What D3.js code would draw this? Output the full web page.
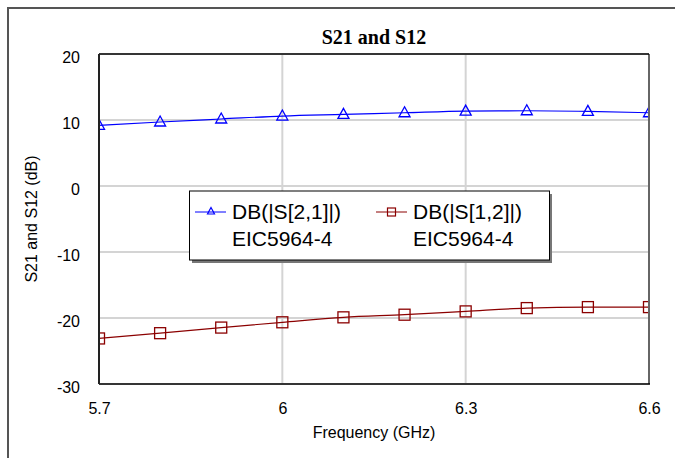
<!DOCTYPE html>
<html>
<head>
<meta charset="utf-8">
<script src="https://cdn.jsdelivr.net/npm/d3@7"></script>
<style>
  body { margin: 0; background: #fff; }
  svg { display: block; }
</style>
</head>
<body>
<div id="chart"></div>
<script>
const freqs = [5.7, 5.8, 5.9, 6.0, 6.1, 6.2, 6.3, 6.4, 6.5, 6.6]
const s21 = [9.2, 9.7, 10.15, 10.6, 10.85, 11.1, 11.35, 11.4, 11.3, 11.1]
const s12 = [-23.1, -22.3, -21.45, -20.65, -19.9, -19.5, -19.0, -18.5, -18.35, -18.35]
const xTicks = [5.7, 6, 6.3, 6.6]
const yTicks = [20, 10, 0, -10, -20, -30]
const seriesNames = ["DB(|S[2,1]|)", "DB(|S[1,2]|)"]
const seriesSub = ["EIC5964-4", "EIC5964-4"]

const width = 675
const height = 458
const margin = {left: 99, top: 54, right: 26, bottom: 74}

const svg = d3.select("#chart").append("svg")
  .attr("width", width)
  .attr("height", height)

// outer frame
svg.append("path")
  .attr("d", `M8,${height} L8,8 L${width},8`)
  .attr("fill", "none")
  .attr("stroke", "#555")
  .attr("stroke-width", 2)

const xScale = d3.scaleLinear()
  .domain([5.7, 6.6])
  .range([margin.left, width - margin.right])

const yScale = d3.scaleLinear()
  .domain([-30, 20])
  .range([height - margin.bottom, margin.top])

const x0 = xScale(5.7), x1 = xScale(6.6), y0 = yScale(20), y1 = yScale(-30)

svg.append("clipPath")
  .attr("id", "plot-clip")
  .append("rect")
    .attr("x", x0).attr("y", y0)
    .attr("width", x1 - x0).attr("height", y1 - y0)

// grid
svg.append("g")
  .selectAll("line")
  .data(yTicks)
  .enter()
  .append("line")
    .attr("x1", x0)
    .attr("x2", x1)
    .attr("y1", d => yScale(d))
    .attr("y2", d => yScale(d))
    .attr("stroke", "#d4d4d4")
    .attr("stroke-width", 2)

svg.append("g")
  .selectAll("line")
  .data(xTicks)
  .enter()
  .append("line")
    .attr("x1", d => xScale(d))
    .attr("x2", d => xScale(d))
    .attr("y1", y0)
    .attr("y2", y1)
    .attr("stroke", "#d4d4d4")
    .attr("stroke-width", 2)

// axes (labels only)
const fmt = d => String(d)

const xAxis = svg.append("g")
  .attr("transform", `translate(0,${y1 + 19})`)
  .call(d3.axisBottom(xScale).tickValues(xTicks).tickSize(0).tickPadding(0).tickFormat(fmt))
xAxis.select(".domain").remove()
xAxis.selectAll("text")
  .attr("font-family", "Liberation Sans, Arial, sans-serif")
  .attr("font-size", 16)
  .attr("fill", "#000")

const yAxis = svg.append("g")
  .attr("transform", `translate(${x0 - 19},3)`)
  .call(d3.axisLeft(yScale).tickValues(yTicks).tickSize(0).tickPadding(0).tickFormat(fmt))
yAxis.select(".domain").remove()
yAxis.selectAll("text")
  .attr("font-family", "Liberation Sans, Arial, sans-serif")
  .attr("font-size", 16)
  .attr("fill", "#000")

// titles
svg.append("text")
  .attr("x", 374)
  .attr("y", 44)
  .attr("text-anchor", "middle")
  .attr("font-family", "Liberation Serif, Times New Roman, serif")
  .attr("font-weight", "bold")
  .attr("font-size", 20)
  .text("S21 and S12")

svg.append("text")
  .attr("x", 374)
  .attr("y", 438)
  .attr("text-anchor", "middle")
  .attr("font-family", "Liberation Sans, Arial, sans-serif")
  .attr("font-size", 16)
  .text("Frequency (GHz)")

svg.append("text")
  .attr("transform", "translate(37,219) rotate(-90)")
  .attr("text-anchor", "middle")
  .attr("font-family", "Liberation Sans, Arial, sans-serif")
  .attr("font-size", 16)
  .text("S21 and S12 (dB)")

// lines
const line = d3.line()
  .x((d, i) => xScale(freqs[i]))
  .y(d => yScale(d))
  .curve(d3.curveMonotoneX)

const triPath = "M0,-6 L5.5,4 L-5.5,4 Z"

const plot = svg.append("g").attr("clip-path", "url(#plot-clip)")

plot.append("path")
  .datum(s21)
  .attr("d", line)
  .attr("fill", "none")
  .attr("stroke", "#0000ff")
  .attr("stroke-width", 1.2)

plot.append("g")
  .selectAll("path")
  .data(s21)
  .enter()
  .append("path")
    .attr("transform", (d, i) => `translate(${xScale(freqs[i])},${yScale(d)})`)
    .attr("d", triPath)
    .attr("fill", "none")
    .attr("stroke", "#0000ff")
    .attr("stroke-width", 1.3)

plot.append("path")
  .datum(s12)
  .attr("d", line)
  .attr("fill", "none")
  .attr("stroke", "#8b0000")
  .attr("stroke-width", 1.2)

plot.append("g")
  .selectAll("rect")
  .data(s12)
  .enter()
  .append("rect")
    .attr("x", (d, i) => xScale(freqs[i]) - 5.5)
    .attr("y", d => yScale(d) - 5.5)
    .attr("width", 11)
    .attr("height", 11)
    .attr("fill", "none")
    .attr("stroke", "#8b0000")
    .attr("stroke-width", 1.3)

// plot frame
svg.append("line").attr("x1", x1).attr("x2", x1).attr("y1", y0).attr("y2", y1)
  .attr("stroke", "#666").attr("stroke-width", 2)
svg.append("line").attr("x1", x0).attr("x2", x1).attr("y1", y0).attr("y2", y0)
  .attr("stroke", "#000").attr("stroke-width", 1.5)
svg.append("line").attr("x1", x0).attr("x2", x1 + 1).attr("y1", y1).attr("y2", y1)
  .attr("stroke", "#000").attr("stroke-width", 1.5)
svg.append("line").attr("x1", x0).attr("x2", x0).attr("y1", y0).attr("y2", y1)
  .attr("stroke", "#222").attr("stroke-width", 2)

// legend
const leg = svg.append("g")
leg.append("rect")
  .attr("x", 192).attr("y", 194).attr("width", 360).attr("height", 69)
  .attr("fill", "#777")
leg.append("rect")
  .attr("x", 189.5).attr("y", 191).attr("width", 360).attr("height", 69)
  .attr("fill", "#fff").attr("stroke", "#000").attr("stroke-width", 1)

const legColors = ["#0000ff", "#8b0000"]
const legX = [195, 376]
seriesNames.forEach(function(name, i) {
  const g = leg.append("g").attr("transform", `translate(${legX[i]},0)`)
  g.append("line")
    .attr("x1", 0).attr("x2", 31).attr("y1", 212).attr("y2", 212)
    .attr("stroke", legColors[i]).attr("stroke-width", 1)
  if (i === 0) {
    g.append("path")
      .attr("transform", "translate(16,211)")
      .attr("d", "M0,-3.5 L3.5,3 L-3.5,3 Z")
      .attr("fill", "none").attr("stroke", legColors[i]).attr("stroke-width", 1.2)
  } else {
    g.append("rect")
      .attr("x", 11.5).attr("y", 208).attr("width", 8).attr("height", 8)
      .attr("fill", "none").attr("stroke", legColors[i]).attr("stroke-width", 1.2)
  }
  g.append("text")
    .attr("x", 37).attr("y", 219)
    .attr("font-family", "Liberation Sans, Arial, sans-serif")
    .attr("font-size", 21)
    .text(name)
  g.append("text")
    .attr("x", 37).attr("y", 246)
    .attr("font-family", "Liberation Sans, Arial, sans-serif")
    .attr("font-size", 21)
    .text(seriesSub[i])
})
</script>
</body>
</html>
